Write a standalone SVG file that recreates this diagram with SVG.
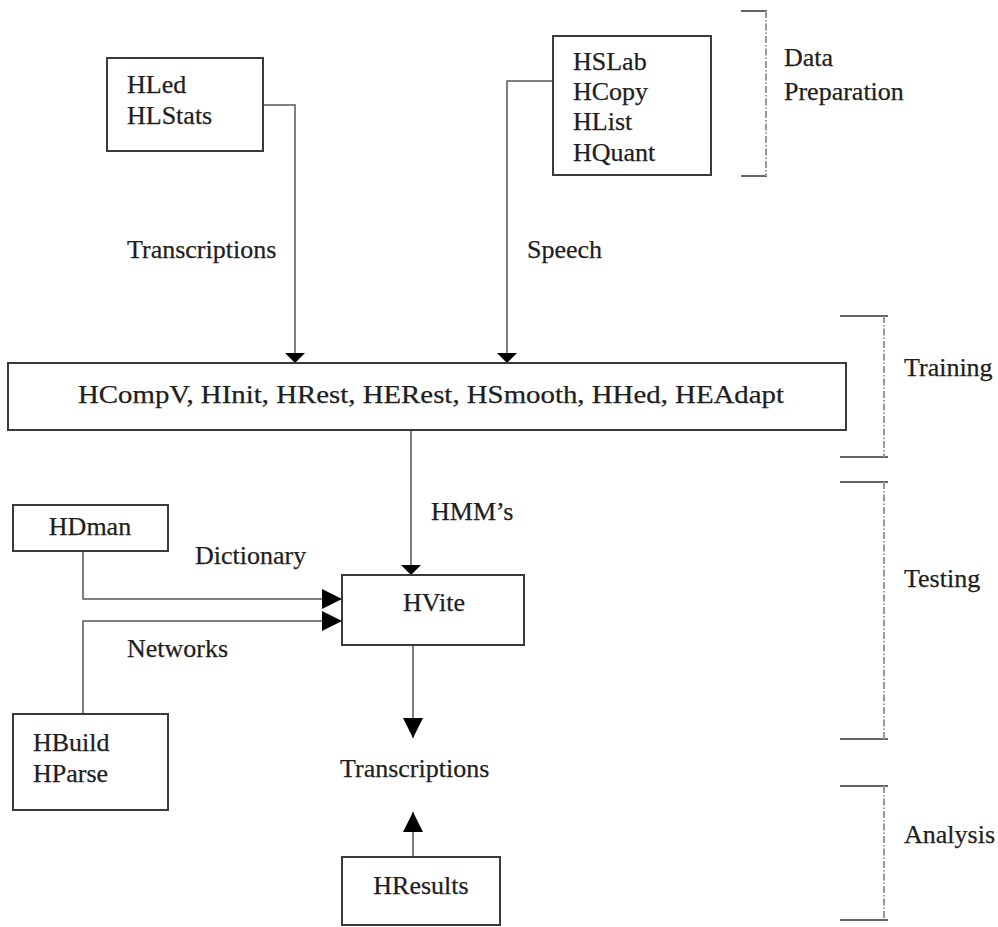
<svg xmlns="http://www.w3.org/2000/svg" width="998" height="927" viewBox="0 0 998 927">
<style>
text{font-family:"Liberation Serif","Times New Roman",serif;font-size:26px;fill:#1e1e1e;stroke:#1e1e1e;stroke-width:0.25}
.box{fill:#fff;stroke:#3a3a3a;stroke-width:2}
.ln{fill:none;stroke:#555;stroke-width:1.5}
.br{fill:none;stroke:#666;stroke-width:2}
.dd{fill:none;stroke:#999;stroke-width:2;stroke-dasharray:7,2,1.5,2}
</style>
<defs>
<marker id="ah" viewBox="0 0 10 20" refX="10" refY="10" markerWidth="10" markerHeight="20" markerUnits="userSpaceOnUse" orient="auto"><path d="M0,0 L10,10 L0,20 Z" fill="#000"/></marker>
<marker id="ab" viewBox="0 0 20 20" refX="20" refY="10" markerWidth="20" markerHeight="20" markerUnits="userSpaceOnUse" orient="auto"><path d="M0,0 L20,10 L0,20 Z" fill="#000"/></marker>
</defs>
<rect width="998" height="927" fill="#fff"/>
<g id="connectors">
<path class="ln" d="M248,105 H295 V363" marker-end="url(#ah)"/>
<path class="ln" d="M558,81 H507 V363" marker-end="url(#ah)"/>
<path class="ln" d="M411,430 V575" marker-end="url(#ah)"/>
<path class="ln" d="M83,551 V599 H342" marker-end="url(#ab)"/>
<path class="ln" d="M83,714 V621 H342" marker-end="url(#ab)"/>
<path class="ln" d="M413,645 V738" marker-end="url(#ab)"/>
<path class="ln" d="M413,857 V812" marker-end="url(#ab)"/>
<text x="127" y="258">Transcriptions</text>
<text x="527" y="258">Speech</text>
<text x="431" y="520">HMM’s</text>
<text x="195" y="564">Dictionary</text>
<text x="127" y="657">Networks</text>
</g>
<g id="hled"><rect class="box" x="107" y="58" width="156" height="93"/><text x="127" y="93">HLed</text><text x="127" y="124">HLStats</text></g>
<g id="hslab"><rect class="box" x="553" y="36" width="158" height="139"/><text x="573" y="70">HSLab</text><text x="573" y="100">HCopy</text><text x="573" y="130">HList</text><text x="573" y="161">HQuant</text></g>
<g id="training"><rect class="box" x="8" y="363" width="838" height="67"/><text x="78" y="403" font-size="29" textLength="706" lengthAdjust="spacingAndGlyphs">HCompV, HInit, HRest, HERest, HSmooth, HHed, HEAdapt</text></g>
<g id="hvite"><rect class="box" x="342" y="575" width="182" height="70"/><text x="434" y="611" text-anchor="middle">HVite</text></g>
<g id="hdman"><rect class="box" x="13" y="505" width="155" height="46"/><text x="90" y="535" text-anchor="middle">HDman</text></g>
<g id="hbuild"><rect class="box" x="13" y="714" width="155" height="96"/><text x="33" y="751">HBuild</text><text x="33" y="782">HParse</text></g>
<g id="transcriptions-out"><text x="340" y="777">Transcriptions</text></g>
<g id="hresults"><rect class="box" x="342" y="857" width="158" height="68"/><text x="421" y="894" text-anchor="middle">HResults</text></g>
<g id="brackets">
<path class="br" d="M741,11 H767 M741,176 H767"/><path class="dd" d="M766,11 V176"/>
<text x="784" y="66">Data</text><text x="784" y="100">Preparation</text>
<path class="br" d="M840,316 H888 M840,457 H888"/><path class="dd" d="M884,316 V457"/>
<text x="904" y="376">Training</text>
<path class="br" d="M840,482 H888 M840,739 H888"/><path class="dd" d="M884,482 V739"/>
<text x="904" y="587">Testing</text>
<path class="br" d="M840,786 H888 M840,920 H888"/><path class="dd" d="M884,786 V920"/>
<text x="904" y="843">Analysis</text>
</g>
</svg>
